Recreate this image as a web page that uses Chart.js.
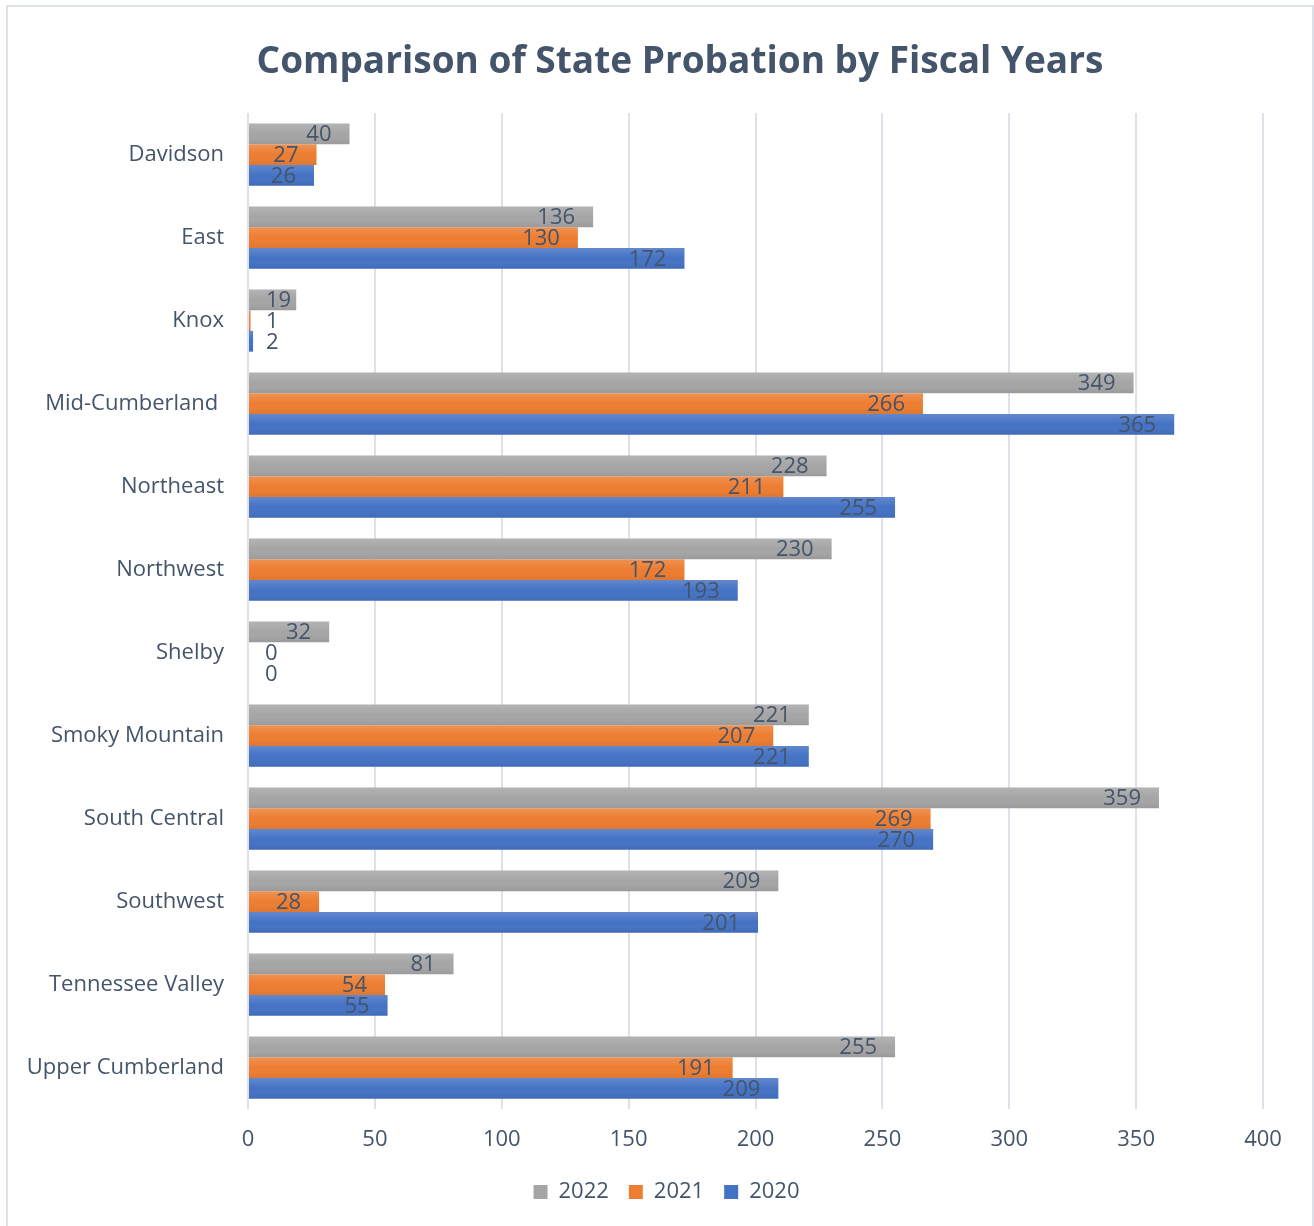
<!DOCTYPE html>
<html>
<head>
<meta charset="utf-8">
<script src="https://cdn.jsdelivr.net/npm/chart.js@4.4.1/dist/chart.umd.min.js"></script>
<style>
  html, body { margin: 0; padding: 0; background: #fff; }
  #wrap { position: relative; width: 1314px; height: 1226px; }
  #frame {
    position: absolute; left: 6px; top: 5px; width: 1304px; height: 1240px;
    border: 2px solid #dde2ea; pointer-events: none;
  }
</style>
</head>
<body>
<div id="wrap">
  <canvas id="chart" width="1314" height="1226"></canvas>
  <div id="frame"></div>
</div>
<script>
const categories = [
    'Davidson', 'East', 'Knox', 'Mid-Cumberland ', 'Northeast', 'Northwest',
    'Shelby', 'Smoky Mountain', 'South Central', 'Southwest', 'Tennessee Valley', 'Upper Cumberland'
];
const values2022 = [40, 136, 19, 349, 228, 230, 32, 221, 359, 209, 81, 255];
const values2021 = [27, 130, 1, 266, 211, 172, 0, 207, 269, 28, 54, 191];
const values2020 = [26, 172, 2, 365, 255, 193, 0, 221, 270, 201, 55, 209];
const seriesLabels = ['2022', '2021', '2020'];
const seriesColors = ['#a5a5a5', '#ed7d31', '#4472c4'];
const chartTitle = 'Comparison of State Probation by Fiscal Years';
const xMax = 400;
const xStep = 50;

const textColor = '#44546a';
const fontFamily = "'Open Sans', 'Segoe UI', sans-serif";

// title and legend sit a bit right of the canvas centre, like the original
const titlePlugin = {
    id: 'titlePlugin',
    afterLayout(chart) {
        chart.legend.left += 30;
        chart.legend.right += 30;
    },
    afterDraw(chart) {
        const ctx = chart.ctx;
        ctx.save();
        ctx.font = `bold 37px ${fontFamily}`;
        ctx.fillStyle = textColor;
        ctx.textAlign = 'center';
        ctx.textBaseline = 'middle';
        ctx.fillText(chartTitle, 680, 62);
        ctx.restore();
    }
};

// soft vertical sheen on each bar plus value labels at the inner end
const barFinish = {
    id: 'barFinish',
    afterDatasetsDraw(chart) {
        const ctx = chart.ctx;
        const metas = chart.data.datasets.map((ds, di) => chart.getDatasetMeta(di));

        ctx.save();
        metas.forEach(meta => {
            meta.data.forEach(bar => {
                const { x, y, base, height } = bar.getProps(['x', 'y', 'base', 'height'], true);
                if (x - base < 0.5) return;
                const top = y - height / 2;
                const g = ctx.createLinearGradient(0, top, 0, top + height);
                g.addColorStop(0, 'rgba(255,255,255,0.16)');
                g.addColorStop(0.5, 'rgba(255,255,255,0)');
                g.addColorStop(1, 'rgba(0,0,0,0.07)');
                ctx.fillStyle = g;
                ctx.fillRect(base, top, x - base, height);
            });
        });

        ctx.font = `22px ${fontFamily}`;
        ctx.fillStyle = textColor;
        ctx.textAlign = 'right';
        ctx.textBaseline = 'middle';
        metas.forEach((meta, di) => {
            const data = chart.data.datasets[di].data;
            meta.data.forEach((bar, i) => {
                const { x, y, base } = bar.getProps(['x', 'y', 'base'], true);
                const text = String(data[i]);
                const w = ctx.measureText(text).width;
                const right = Math.max(x - 18, base + 17 + w);
                ctx.fillText(text, right, y + 1);
            });
        });
        ctx.restore();
    }
};

new Chart(document.getElementById('chart'), {
    type: 'bar',
    data: {
        labels: categories,
        datasets: [
            { label: seriesLabels[0], data: values2022, backgroundColor: seriesColors[0] },
            { label: seriesLabels[1], data: values2021, backgroundColor: seriesColors[1] },
            { label: seriesLabels[2], data: values2020, backgroundColor: seriesColors[2] }
        ]
    },
    options: {
        indexAxis: 'y',
        responsive: false,
        animation: false,
        datasets: {
            bar: { categoryPercentage: 0.75, barPercentage: 1.0 }
        },
        layout: { padding: { left: 10, right: 51, top: 113, bottom: 13 } },
        scales: {
            x: {
                min: 0,
                max: xMax,
                ticks: {
                    stepSize: xStep,
                    color: textColor,
                    font: { family: fontFamily, size: 22 },
                    padding: 18
                },
                grid: { color: '#dde2ea', lineWidth: 2, drawTicks: false },
                border: { display: false },
                afterFit(scale) { scale.height = 52; }
            },
            y: {
                ticks: {
                    color: textColor,
                    font: { family: fontFamily, size: 22 },
                    padding: 24
                },
                grid: { display: false, drawTicks: false },
                border: { display: false },
                afterFit(scale) { scale.width = 238; }
            }
        },
        plugins: {
            title: { display: false },
            legend: {
                position: 'bottom',
                labels: {
                    color: textColor,
                    font: { family: fontFamily, size: 22 },
                    boxWidth: 14,
                    boxHeight: 14,
                    padding: 20
                }
            },
            tooltip: { enabled: false }
        }
    },
    plugins: [barFinish, titlePlugin]
});
</script>
</body>
</html>
